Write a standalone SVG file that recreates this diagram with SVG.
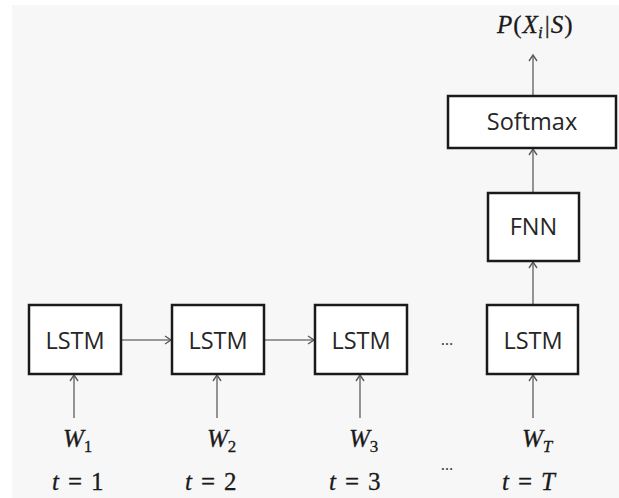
<svg xmlns="http://www.w3.org/2000/svg" width="619" height="498" viewBox="0 0 619 498">
<style>
.box{fill:#fff;stroke:#1a1a1a;stroke-width:2.5}
.lbl{font-family:"Open Sans","Noto Sans",sans-serif;font-size:23.5px;fill:#262626;text-anchor:middle}
.m{font-family:"Liberation Serif","DejaVu Serif",serif;font-size:25px;fill:#1a1a1a;stroke:#1a1a1a;stroke-width:0.3}
.i{font-style:italic}
.sub{font-size:17px}
.dots{font-family:"Open Sans",sans-serif;font-size:16px;fill:#333;text-anchor:middle}
.c{stroke:#7a7a7a;stroke-width:1.6;fill:none;marker-end:url(#ah)}
</style>
<defs>
<marker id="ah" markerUnits="userSpaceOnUse" markerWidth="12" markerHeight="12" refX="7" refY="5" orient="auto">
<path d="M1,1 L7,5 L1,9" fill="none" stroke="#5a5a5a" stroke-width="1.4"/>
</marker>
</defs>
<rect x="0" y="0" width="619" height="498" fill="#fff"/>
<rect x="12" y="5" width="607" height="493" fill="#f7f7f7"/>
<g id="connectors">
<line class="c" x1="121" y1="340" x2="171" y2="340"/>
<line class="c" x1="264" y1="340" x2="314" y2="340"/>
<line class="c" x1="74" y1="418" x2="74" y2="375"/>
<line class="c" x1="217" y1="418" x2="217" y2="375"/>
<line class="c" x1="360" y1="418" x2="360" y2="375"/>
<line class="c" x1="533" y1="418" x2="533" y2="375"/>
<line class="c" x1="533" y1="304" x2="533" y2="262"/>
<line class="c" x1="533" y1="192" x2="533" y2="149"/>
<line class="c" x1="533" y1="95" x2="533" y2="55"/>
</g>
<g id="lstm1"><rect class="box" x="29" y="305" width="92" height="69"/><text class="lbl" x="75" y="349">LSTM</text></g>
<g id="lstm2"><rect class="box" x="172" y="305" width="92" height="69"/><text class="lbl" x="218" y="349">LSTM</text></g>
<g id="lstm3"><rect class="box" x="315" y="305" width="92" height="69"/><text class="lbl" x="361" y="349">LSTM</text></g>
<g id="lstm4"><rect class="box" x="487" y="305" width="91" height="69"/><text class="lbl" x="533" y="349">LSTM</text></g>
<g id="fnn"><rect class="box" x="488" y="193" width="91" height="68"/><text class="lbl" x="533.5" y="235">FNN</text></g>
<g id="softmax"><rect class="box" x="448" y="96" width="168" height="52"/><text class="lbl" x="532" y="130">Softmax</text></g>
<g id="output"><text class="m" x="497" y="33"><tspan class="i">P</tspan><tspan dx="1">(</tspan><tspan class="i" dx="1">X</tspan><tspan class="i sub" dy="5">i</tspan><tspan dy="-5" dx="2">|</tspan><tspan class="i" dx="1">S</tspan><tspan dx="1">)</tspan></text></g>
<g id="dots1"><text class="dots" x="447" y="345">…</text></g>
<g id="dots2"><text class="dots" x="447" y="470">…</text></g>
<g id="w1"><text class="m" x="63" y="447"><tspan class="i">W</tspan><tspan class="sub" dy="5">1</tspan></text></g>
<g id="w2"><text class="m" x="207" y="447"><tspan class="i">W</tspan><tspan class="sub" dy="5">2</tspan></text></g>
<g id="w3"><text class="m" x="349" y="447"><tspan class="i">W</tspan><tspan class="sub" dy="5">3</tspan></text></g>
<g id="wT"><text class="m" x="522" y="447"><tspan class="i">W</tspan><tspan class="i sub" dy="5">T</tspan></text></g>
<g id="t1"><text class="m" x="52" y="490"><tspan class="i">t</tspan><tspan dx="9">=</tspan><tspan dx="9">1</tspan></text></g>
<g id="t2"><text class="m" x="185" y="490"><tspan class="i">t</tspan><tspan dx="9">=</tspan><tspan dx="9">2</tspan></text></g>
<g id="t3"><text class="m" x="329" y="490"><tspan class="i">t</tspan><tspan dx="9">=</tspan><tspan dx="9">3</tspan></text></g>
<g id="tT"><text class="m" x="502" y="490"><tspan class="i">t</tspan><tspan dx="9">=</tspan><tspan class="i" dx="9">T</tspan></text></g>
</svg>
